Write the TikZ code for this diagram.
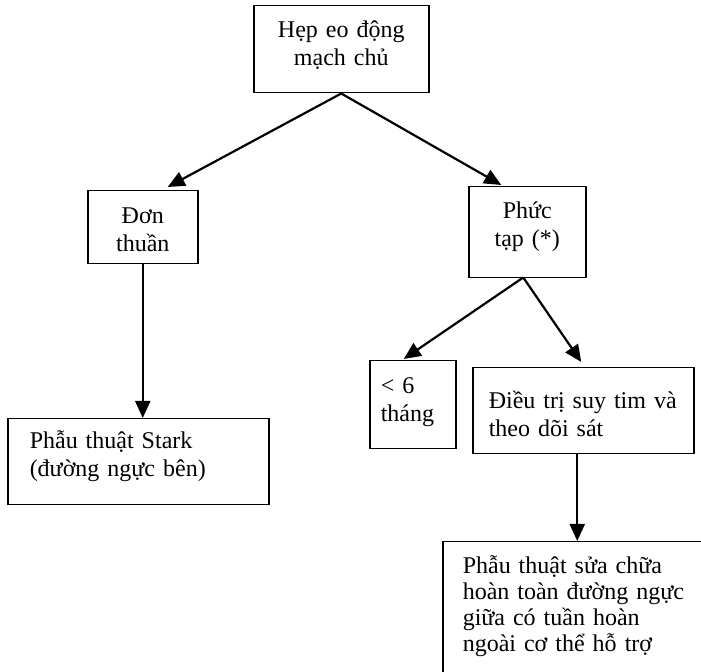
\documentclass[tikz,border=0pt]{standalone}
\usepackage{fontspec}
\setmainfont{Liberation Serif}
\usetikzlibrary{arrows.meta}
\tikzset{
  cell/.style={draw, line width=0.75pt, anchor=north west, inner ysep=0pt,
    font=\fontsize{12}{13.8}\selectfont},
  conn/.style={line width=1.1pt, -{Triangle[length=8.5pt,width=7.5pt]}}
}
\begin{document}
\begin{tikzpicture}[x=0.5pt,y=-0.5pt]
  \clip (0,0) rectangle (701,672);

  % boxes (corner positions in pixels, y pointing down)
  \node[cell, inner xsep=5pt, text width=77.5pt, text height=16pt, text depth=27.5pt, align=center]
    (top) at (253,5) {Hẹp eo động\\mạch chủ};
  \node[cell, inner xsep=4pt, text width=47pt, text height=16.5pt, text depth=20pt, align=center]
    (don) at (87,190) {Đơn\\thuần};
  \node[cell, inner xsep=4pt, text width=50.5pt, text height=16pt, text depth=29.5pt, align=center]
    (phuc) at (468,186) {Phức\\tạp (*)};
  \node[cell, inner xsep=5.5pt, text width=32pt, text height=16.5pt, text depth=27.5pt, align=left]
    (lt6) at (369,360) {\mbox{< 6}\\tháng};
  \node[cell, inner xsep=8pt, text width=94.5pt, text height=20.5pt, text depth=22.5pt, align=left]
    (dieu) at (472,367) {\mbox{Điều trị suy tim và}\\\mbox{theo dõi sát}};
  \node[cell, inner xsep=11pt, text width=108.5pt, text height=15pt, text depth=28pt, align=left]
    (stark) at (7,418) {Phẫu thuật Stark\\(đường ngực bên)};
  \node[cell, inner xsep=10pt, text width=130pt, text height=16pt, text depth=134pt, align=left,
    font=\fontsize{12}{13}\selectfont]
    (final) at (442,541) {Phẫu thuật sửa chữa\\hoàn toàn đường ngực\\giữa có tuần hoàn\\ngoài cơ thể hỗ trợ};

  % connectors
  \draw[conn] (top.south) -- ([shift={(25,-3)}]don.north);
  \draw[conn] (top.south) -- ([shift={(-26,-1)}]phuc.north);
  \draw[conn] (don.south) -- (don.south |- stark.north);
  \draw[conn] ([shift={(-4,-1)}]phuc.south) -- ([shift={(-9,-1)}]lt6.north);
  \draw[conn] ([shift={(-4,-1)}]phuc.south) -- ([shift={(-2,-5)}]dieu.north);
  \draw[conn] ([shift={(-6,0)}]dieu.south) -- ([shift={(-6,0)}]dieu.south |- final.north);
\end{tikzpicture}
\end{document}
